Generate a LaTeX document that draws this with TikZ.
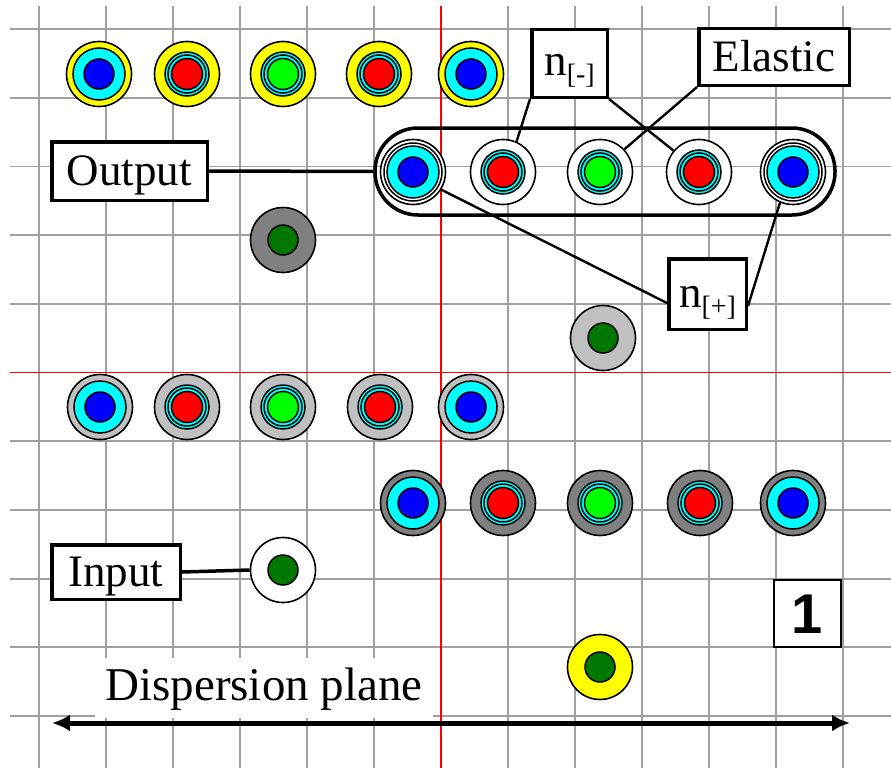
\documentclass[tikz,border=0pt]{standalone}
\usepackage{fontspec}
\setmainfont{Liberation Serif}
\newfontfamily\numfont{Liberation Sans}
\usetikzlibrary{arrows.meta}
\definecolor{dgreen}{HTML}{007800}
\definecolor{lgray}{HTML}{C0C0C0}
\definecolor{mgray}{HTML}{808080}
\definecolor{gridc}{HTML}{A0A0A0}
\definecolor{pcyan}{HTML}{00FFFF}
\definecolor{pblue}{HTML}{0000FF}
\definecolor{pred}{HTML}{FF0000}
\definecolor{pgreen}{HTML}{00FF00}
\definecolor{pyellow}{HTML}{FFFF00}
\tikzset{
  ptcl/.style={circle, draw, line width=1.6pt, minimum size=65pt, inner sep=0pt},
  ring/.style={line width=1.5pt},
  lbl/.style={draw, line width=3.5pt, fill=white, inner sep=0pt, font=\fontsize{45}{48}\selectfont, text height=29pt, text depth=0pt},
  conn/.style={line width=3.5pt},
  thinconn/.style={line width=2.4pt},
  gridline/.style={gridc, line width=1.8pt},
  redline/.style={pred, line width=1.8pt},
}
% blue core particle: name, x, y, outer fill
\newcommand\partB[4]{%
  \node[ptcl, fill=#4] (#1) at (#2,#3) {};
  \draw[ring, fill=pcyan] (#2,#3) circle[radius=26];
  \draw[ring, fill=pblue] (#2,#3) circle[radius=15];}
% coloured core with thin cyan ring: name, x, y, outer fill, core colour
\newcommand\partC[5]{%
  \node[ptcl, fill=#4] (#1) at (#2,#3) {};
  \draw[ring, fill=pcyan] (#2,#3) circle[radius=22];
  \draw[ring] (#2,#3) circle[radius=19];
  \draw[ring, fill=#5] (#2,#3) circle[radius=15.5];}
% dark green core only: name, x, y, outer fill
\newcommand\partD[4]{%
  \node[ptcl, fill=#4] (#1) at (#2,#3) {};
  \draw[ring, fill=dgreen] (#2,#3) circle[radius=15];}
\newcommand\dblring[2]{\draw[ring] (#1,#2) circle[radius=29];}
\begin{document}
\begin{tikzpicture}[x=1pt,y=-1pt]
\useasboundingbox (0,0) rectangle (891,768);
\fill[white] (0,0) rectangle (891,768);
% grid
\foreach \i in {0,...,12} \draw[gridline] ({39+67*\i},6) -- ({39+67*\i},768);
\foreach \j in {0,...,10} \draw[gridline] (10,{29+68.7*\j}) -- (891,{29+68.7*\j});
\draw[redline] (441,6) -- (441,768);
\draw[redline] (10,372.5) -- (891,372.5);
% capsule
\node[draw, line width=3.5pt, rounded corners=43pt, minimum width=460pt, minimum height=87pt, inner sep=0pt] (cap) at (605,171.5) {};
% row 1 (yellow)
\partB{y1}{99}{74}{pyellow}
\partC{y2}{187}{74}{pyellow}{pred}
\partC{y3}{283}{74}{pyellow}{pgreen}
\partC{y4}{379}{74}{pyellow}{pred}
\partB{y5}{471}{74}{pyellow}
% capsule row (white)
\partB{c1}{413}{172}{white}\dblring{413}{172}
\partC{c2}{503}{172}{white}{pred}
\partC{c3}{600}{172}{white}{pgreen}
\partC{c4}{699}{172}{white}{pred}
\partB{c5}{793}{172}{white}\dblring{793}{172}
% single green particles
\partD{dg}{283}{240}{mgray}
\partD{lg}{603}{338}{lgray}
% row 3 (light gray)
\partB{g1}{100}{407}{lgray}
\partC{g2}{187}{407}{lgray}{pred}
\partC{g3}{283}{407}{lgray}{pgreen}
\partC{g4}{380}{407}{lgray}{pred}
\partB{g5}{471}{407}{lgray}
% row 4 (dark gray)
\partB{d1}{413}{503}{mgray}
\partC{d2}{503}{503}{mgray}{pred}
\partC{d3}{600}{503}{mgray}{pgreen}
\partC{d4}{700}{503}{mgray}{pred}
\partB{d5}{793}{503}{mgray}
% input and yellow particle
\partD{inp}{283}{570}{white}
\partD{yg}{600}{667}{pyellow}
% labels
\node[lbl, minimum width=155.5pt, minimum height=58.5pt] (outlbl) at (129.5,171) {Output};
\node[lbl, minimum width=75.5pt, minimum height=67.5pt, text height=23pt] (nm) at (569.5,63.5) {n\raisebox{-8pt}{\fontsize{28}{30}\selectfont[-]}};
\node[lbl, minimum width=150.5pt, minimum height=56.5pt] (el) at (774,57) {Elastic};
\node[lbl, minimum width=77.5pt, minimum height=70.5pt, text height=26pt] (np) at (707.5,294) {n\raisebox{-8pt}{\fontsize{28}{30}\selectfont[+]}};
\node[lbl, minimum width=128.5pt, minimum height=54.5pt] (inlbl) at (116,572) {Input};
\node[draw, line width=1.6pt, fill=white, minimum width=67pt, minimum height=67pt, inner sep=0pt, font=\numfont\bfseries\fontsize{56}{60}\selectfont, text height=40pt, text depth=0pt] (one) at (807.5,613.5) {1};
\node[fill=white, minimum width=338pt, minimum height=60pt, inner sep=0pt, font=\fontsize{47}{50}\selectfont, text height=24pt, text depth=0pt] (dp) at (264,688) {Dispersion plane};
% connectors
\draw[conn] (outlbl.east) -- (cap.west);
\draw[conn] (inlbl.east) -- (inp.west);
\draw[thinconn] (nm.south west) -- (c2.66);
\draw[thinconn] (nm.south east) -- (c4.140);
\draw[thinconn] (el.south west) -- (c3.43);
\draw[thinconn] ([yshift=-9pt]np.west) -- (c1.-32);
\draw[thinconn] ([yshift=-12pt]np.east) -- (c5.-113);
% dispersion plane arrow
\coordinate (aL) at (52,723);
\coordinate (aR) at (850,723);
\draw[line width=5pt, {Latex[length=18pt,width=17pt]}-{Latex[length=18pt,width=17pt]}] (aL) -- (aR);
\end{tikzpicture}
\end{document}
